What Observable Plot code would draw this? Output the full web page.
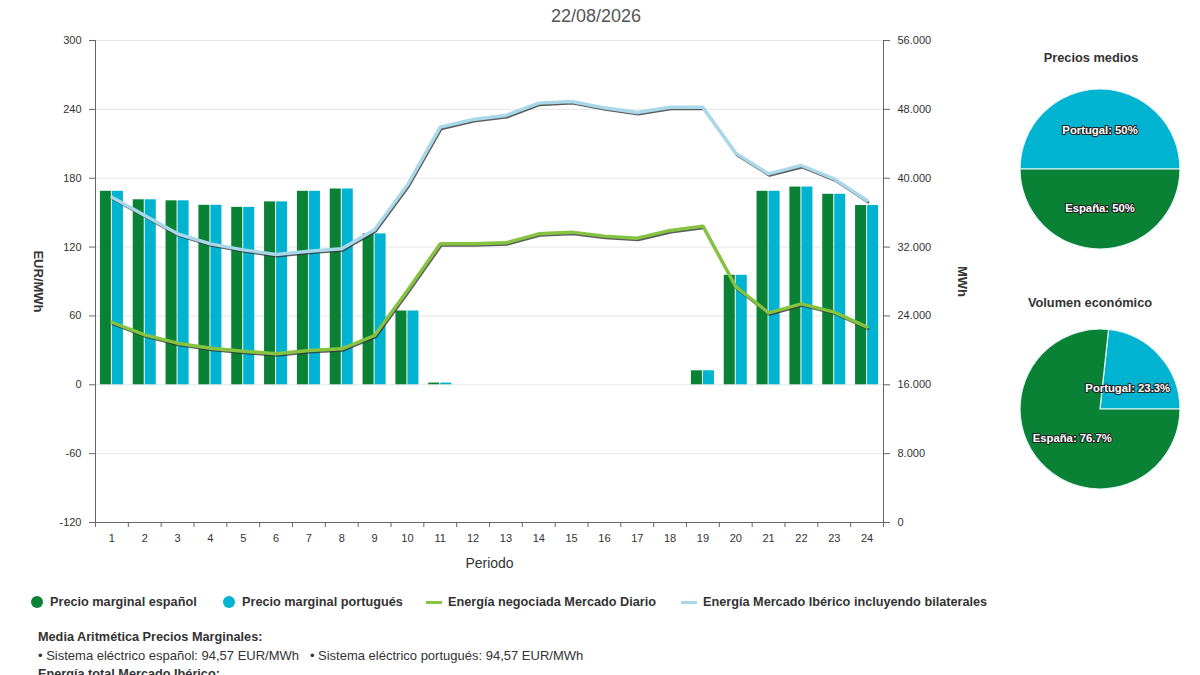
<!DOCTYPE html>
<html>
<head>
<meta charset="utf-8">
<script src="https://cdn.jsdelivr.net/npm/d3@7"></script>
<script src="https://cdn.jsdelivr.net/npm/@observablehq/plot@0.6"></script>
<style>
  body { margin:0; width:1200px; height:675px; overflow:hidden; background:#fff;
         font-family:"Liberation Sans", Arial, sans-serif; color:#333; position:relative; }
  .abs { position:absolute; }
  .leg { position:absolute; top:594px; font-size:12.7px; font-weight:bold; color:#333; white-space:nowrap; line-height:16px; }
  .dot { position:absolute; width:12px; height:12px; border-radius:50%; top:596px; }
  .lsym { position:absolute; width:16px; height:3px; top:601px; }
  .ptitle { position:absolute; width:200px; text-align:center; font-size:12.8px; font-weight:bold; color:#333; }
  .note { position:absolute; left:38px; font-size:13px; color:#333; white-space:nowrap; }
</style>
</head>
<body>
<div id="main" class="abs" style="left:0;top:0"></div>
<div class="abs" style="left:496px;top:6px;width:200px;text-align:center;font-size:18px;color:#555">22/08/2026</div>

<div class="ptitle" style="left:991px;top:50px">Precios medios</div>
<div id="pie1" class="abs" style="left:1000px;top:69px"></div>
<div class="ptitle" style="left:990px;top:295px">Volumen económico</div>
<div id="pie2" class="abs" style="left:1000px;top:309px"></div>

<div class="dot" style="left:31px;background:#0a8236"></div>
<div class="leg" style="left:50px">Precio marginal español</div>
<div class="dot" style="left:223px;background:#00b3d0"></div>
<div class="leg" style="left:242px">Precio marginal portugués</div>
<div class="lsym" style="left:426px;background:#86c341"></div>
<div class="leg" style="left:448px">Energía negociada Mercado Diario</div>
<div class="lsym" style="left:681px;background:#a9d8ea"></div>
<div class="leg" style="left:703px">Energía Mercado Ibérico incluyendo bilaterales</div>

<div class="note" style="top:630px;font-weight:bold;font-size:12.7px">Media Aritmética Precios Marginales:</div>
<div class="note" style="top:648px">• Sistema eléctrico español: 94,57 EUR/MWh &nbsp;&nbsp;• Sistema eléctrico portugués: 94,57 EUR/MWh</div>
<div class="note" style="top:667px;font-weight:bold;font-size:12.7px">Energía total Mercado Ibérico:</div>

<script>
// ---- data ----
const periods = [1,2,3,4,5,6,7,8,9,10,11,12,13,14,15,16,17,18,19,20,21,22,23,24];
const precioES = [168.6,161.2,160.3,156.4,154.6,159.4,168.6,170.6,131.5,64.3,1.5,0,0,0,0,0,0,0,12.2,95.4,168.6,172.3,166,156.2];
const precioPT = [168.6,161.2,160.3,156.4,154.6,159.4,168.6,170.6,131.5,64.3,1.5,0,0,0,0,0,0,0,12.2,95.4,168.6,172.3,166,156.2];
const energiaDiario = [23270,21800,20830,20250,19900,19600,19980,20180,21730,26950,32380,32380,32500,33540,33730,33270,33030,33930,34430,27400,24360,25410,24440,22700];
const energiaIberico = [37800,35670,33540,32380,31680,31140,31520,31800,34010,39200,45930,46820,47290,48720,48910,48180,47640,48250,48250,42910,40510,41480,39930,37410];
const leftTicks = [-120,-60,0,60,120,180,240,300];
const rightMax = 56000;
const pieLabels = ["Portugal","España"];
const preciosMediosPct = [50,50];
const volumenPct = [23.3,76.7];

const GREEN = "#0a8236", CYAN = "#00b3d0", LGREEN = "#86c341", LBLUE = "#a9d8ea";

const rows = periods.map((p,i) => ({p, es: precioES[i], pt: precioPT[i], diario: energiaDiario[i], iber: energiaIberico[i]}));

const W = 1000, H = 580, ML = 95, MR = 117, MT = 40, MB = 58;
const bw = (W - ML - MR) / periods.length;
const yMin = leftTicks[0], yMax = leftTicks[leftTicks.length-1];
const toLeft = v => yMin + v * (yMax - yMin) / rightMax;
const fmtMWh = d => {
  const v = Math.round((d - yMin) * rightMax / (yMax - yMin));
  return d3.format(",")(v).replace(/,/g, ".");
};

const main = Plot.plot({
  width: W, height: H, marginLeft: ML, marginRight: MR, marginTop: MT, marginBottom: MB,
  style: {fontFamily: "Liberation Sans, Arial, sans-serif", fontSize: "11px", color: "#333", background: "transparent", overflow: "visible"},
  x: {type: "band", domain: periods, padding: 0, round: false, axis: null, label: null},
  y: {domain: [yMin, yMax], axis: null, label: null},
  marks: [
    Plot.gridY(leftTicks.slice(1), {stroke: "#e6e6e6", strokeOpacity: 1}),
    Plot.barY(rows, {x: "p", y: "es", fill: GREEN, insetLeft: 4.9, insetRight: 16.9}),
    Plot.barY(rows, {x: "p", y: "pt", fill: CYAN, insetLeft: 16.9, insetRight: 4.9}),
    Plot.line(rows, {x: "p", y: d => toLeft(d.iber), stroke: "#333", strokeOpacity: 0.8, strokeWidth: 2.6, dx: 1, dy: 1.7}),
    Plot.line(rows, {x: "p", y: d => toLeft(d.iber), stroke: LBLUE, strokeWidth: 3.4}),
    Plot.line(rows, {x: "p", y: d => toLeft(d.diario), stroke: "#333", strokeOpacity: 0.8, strokeWidth: 2.6, dx: 1, dy: 1.7}),
    Plot.line(rows, {x: "p", y: d => toLeft(d.diario), stroke: LGREEN, strokeWidth: 3.4}),
    Plot.ruleY([yMin], {stroke: "#666"}),
    Plot.ruleX([periods[0]], {dx: -bw/2, stroke: "#666", insetBottom: -5}),
    Plot.ruleX([periods[periods.length-1]], {dx: bw/2, stroke: "#666", insetBottom: -5}),
    Plot.axisX(periods.slice(1), {tickSize: 5, tickFormat: () => "", dx: -bw/2, stroke: "#666"}),
    Plot.axisX({tickSize: 0, tickPadding: 12, fontSize: 11, fill: "#333"}),
    Plot.axisY({anchor: "left", ticks: leftTicks, tickFormat: d => String(d), tickSize: 6, tickPadding: 8, stroke: "#666", fill: "#333", fontSize: 11}),
    Plot.axisY({anchor: "right", ticks: leftTicks, tickFormat: fmtMWh, tickSize: 6, tickPadding: 8, stroke: "#666", fill: "#333", fontSize: 11}),
    Plot.text(["EUR/MWh"], {text: d => d, frameAnchor: "left", textAnchor: "middle", lineAnchor: "middle", dx: -57, rotate: 90, fontWeight: "bold", fontSize: 13, fill: "#333"}),
    Plot.text(["MWh"], {text: d => d, frameAnchor: "right", textAnchor: "middle", lineAnchor: "middle", dx: 79, rotate: 90, fontWeight: "bold", fontSize: 13, fill: "#333"}),
    Plot.text(["Periodo"], {text: d => d, frameAnchor: "bottom", lineAnchor: "middle", dy: 41, fontSize: 14, fill: "#333"})
  ]
});
document.getElementById("main").append(main);

function pieChart(pcts, startDeg, labelR, labelShift) {
  const data = pieLabels.map((l, i) => ({label: l, pct: pcts[i], shift: labelShift[i]}));
  const colors = {Portugal: CYAN, "España": GREEN};
  return Plot.plot({
    width: 200, height: 200, margin: 0,
    style: {background: "transparent", overflow: "visible"},
    marks: [
      (index, scales, values, dims) => {
        const s = startDeg * Math.PI / 180;
        const arcs = d3.pie().sort(null).value(d => d.pct).startAngle(s).endAngle(s + 2*Math.PI)(data);
        const g = d3.create("svg:g").attr("transform", `translate(${dims.width/2},${dims.height/2})`);
        const arc = d3.arc().innerRadius(0).outerRadius(80);
        g.selectAll("path").data(arcs).join("path")
          .attr("d", arc).attr("fill", d => colors[d.data.label])
          .attr("stroke", "#e8f6f8").attr("stroke-width", 1.2);
        const la = d3.arc().innerRadius(labelR).outerRadius(labelR);
        g.selectAll("text").data(arcs).join("text")
          .attr("transform", d => { const c = la.centroid(d); return `translate(${c[0] + d.data.shift[0]},${c[1] + d.data.shift[1]})`; })
          .attr("text-anchor", "middle").attr("dy", "0.35em")
          .attr("font-family", "Liberation Sans, Arial, sans-serif")
          .attr("font-size", 11.3).attr("font-weight", "bold")
          .attr("fill", "#fff").attr("stroke", "#222").attr("stroke-width", 2.2)
          .attr("stroke-linejoin", "round").attr("paint-order", "stroke")
          .text(d => `${d.data.label}: ${d.data.pct}%`);
        return g.node();
      }
    ]
  });
}
document.getElementById("pie1").append(pieChart(preciosMediosPct, -90, 38, [[0,-1],[0,1]]));
document.getElementById("pie2").append(pieChart(volumenPct, 90 - volumenPct[0] * 3.6, 44, [[-5,8],[5,0]]));
</script>
</body>
</html>
